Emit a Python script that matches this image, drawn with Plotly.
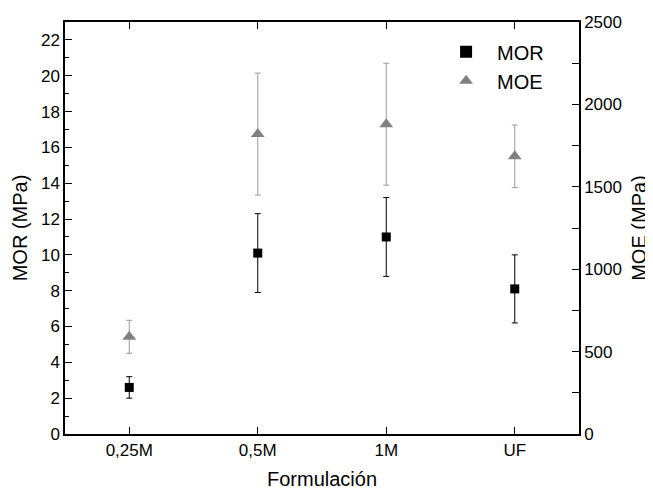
import plotly.graph_objects as go

categories = ["0,25M", "0,5M", "1M", "UF"]
mor = [2.6, 10.1, 11.0, 8.1]
mor_err = [0.6, 2.2, 2.2, 1.9]
moe = [590, 1820, 1880, 1685]
moe_err = [100, 370, 370, 190]

FONT = "Liberation Sans, Arial, sans-serif"

fig = go.Figure()
fig.add_trace(go.Scatter(
    x=categories, y=mor, name="MOR", mode="markers",
    marker=dict(symbol="square", size=9, color="black"),
    error_y=dict(type="data", array=mor_err, color="black", thickness=1, width=3),
    yaxis="y",
))
fig.add_trace(go.Scatter(
    x=categories, y=moe, name="MOE", mode="markers",
    marker=dict(symbol="triangle-up", size=12, color="#808080"),
    error_y=dict(type="data", array=moe_err, color="#9a9a9a", thickness=1, width=3),
    yaxis="y2",
))

# page body has an 8px margin, so the figure is sized/offset to compensate
fig.update_layout(
    width=645, height=482,
    margin=dict(l=57, r=74, t=14, b=56),
    paper_bgcolor="white", plot_bgcolor="white",
    font=dict(family=FONT, size=17, color="black"),
    showlegend=True,
    legend=dict(x=0.72, y=0.975, xanchor="left", yanchor="top",
                bgcolor="rgba(0,0,0,0)", font=dict(size=20), itemsizing="constant",
                itemwidth=52, tracegroupgap=0),
    xaxis=dict(
        type="category", range=[-0.5, 3.5], automargin=False,
        showline=True, linecolor="black", linewidth=1.5, mirror="ticks",
        ticks="inside", ticklen=7, tickcolor="black",
        showgrid=False, zeroline=False,
        title=dict(text="Formulación", font=dict(size=20), standoff=15),
        tickfont=dict(size=17),
    ),
    yaxis=dict(
        range=[0, 23], dtick=2, tick0=0, automargin=False,
        showline=True, linecolor="black", linewidth=1.5,
        ticks="inside", ticklen=7, tickcolor="black",
        minor=dict(dtick=1, ticks="inside", ticklen=4, tickcolor="black"),
        showgrid=False, zeroline=False,
        title=dict(text="MOR (MPa)", font=dict(size=20), standoff=8),
        tickfont=dict(size=17),
    ),
    yaxis2=dict(
        range=[0, 2500], dtick=500, tick0=0, automargin=False,
        overlaying="y", side="right",
        showline=True, linecolor="black", linewidth=1.5,
        ticks="inside", ticklen=7, tickcolor="black",
        minor=dict(dtick=250, ticks="inside", ticklen=7, tickcolor="black"),
        showgrid=False, zeroline=False,
        title=dict(text="MOE (MPa)", font=dict(size=20), standoff=11),
        tickfont=dict(size=17),
    ),
)

fig.write_html("out.html")
